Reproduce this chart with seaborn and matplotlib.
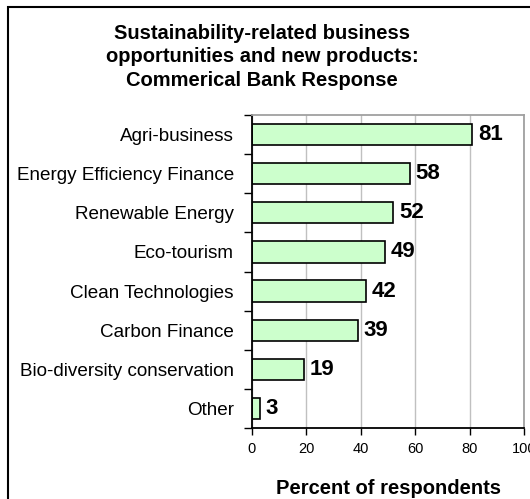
import matplotlib
matplotlib.use("Agg")
import matplotlib.pyplot as plt
import seaborn as sns
import pandas as pd
from matplotlib.patches import Rectangle

categories = ["Agri-business", "Energy Efficiency Finance", "Renewable Energy",
              "Eco-tourism", "Clean Technologies", "Carbon Finance",
              "Bio-diversity conservation", "Other"]
values = [81, 58, 52, 49, 42, 39, 19, 3]
xticks = [0, 20, 40, 60, 80, 100]
title = "Sustainability-related business\nopportunities and new products:\nCommerical Bank Response"
xlabel = "Percent of respondents"

sns.set_theme(style="white")
plt.rcParams['font.family'] = ['Liberation Sans', 'DejaVu Sans']
plt.rcParams['text.color'] = 'black'
plt.rcParams['xtick.color'] = 'black'
plt.rcParams['ytick.color'] = 'black'
plt.rcParams['axes.labelcolor'] = 'black'

df = pd.DataFrame({"cat": categories, "val": values})

fig = plt.figure(figsize=(5.30, 4.99), dpi=100)
ax = fig.add_axes([252/530, 1-428/499, (524-252)/530, (428-115)/499])

sns.barplot(data=df, x="val", y="cat", orient="h", color="#CCFFCC",
            edgecolor="black", linewidth=1.2, width=0.54, saturation=1, ax=ax)

ax.set_xlim(0, 100)
ax.set_ylim(7.5, -0.5)
ax.set_xticks(xticks)
ax.set_xticklabels([str(t) for t in xticks], fontsize=10.5)
ax.xaxis.grid(True, color="#C0C0C0", linewidth=1)
ax.set_axisbelow(True)

# y ticks at category boundaries, labels at centres
ax.set_yticks([i - 0.5 for i in range(len(categories) + 1)])
ax.set_yticklabels([])
ax.set_yticks(range(len(categories)), minor=True)
ax.set_yticklabels(categories, minor=True, fontsize=13.6)
ax.tick_params(axis="y", which="minor", length=0, pad=13)
ax.tick_params(axis="y", which="major", length=6, width=1, color="black", direction="out", left=True)
ax.tick_params(axis="x", which="major", length=5, width=1, color="black", direction="out", bottom=True, pad=5)

for side in ["left", "bottom"]:
    ax.spines[side].set_color("black")
    ax.spines[side].set_linewidth(1.3)
for side in ["top", "right"]:
    ax.spines[side].set_color("#A0A0A0")
    ax.spines[side].set_linewidth(1.3)

ax.set_ylabel("")
ax.set_xlabel(xlabel, fontsize=14.5, fontweight="bold", labelpad=17)

for i, v in enumerate(values):
    ax.annotate(str(v), xy=(v, i), xytext=(4, 0), textcoords="offset points",
                ha="left", va="center", fontsize=16, fontweight="bold", color="black")

fig.text(262/530, 1 - 57/499, title, ha="center", va="center", fontsize=14.5,
         fontweight="bold", linespacing=1.3)

fig.patches.append(Rectangle((8/530, -0.1), 1.2, 1.1 - 7/499,
                             transform=fig.transFigure, fill=False,
                             edgecolor="black", linewidth=1.5, figure=fig))

fig.savefig("out.png", dpi=100)
